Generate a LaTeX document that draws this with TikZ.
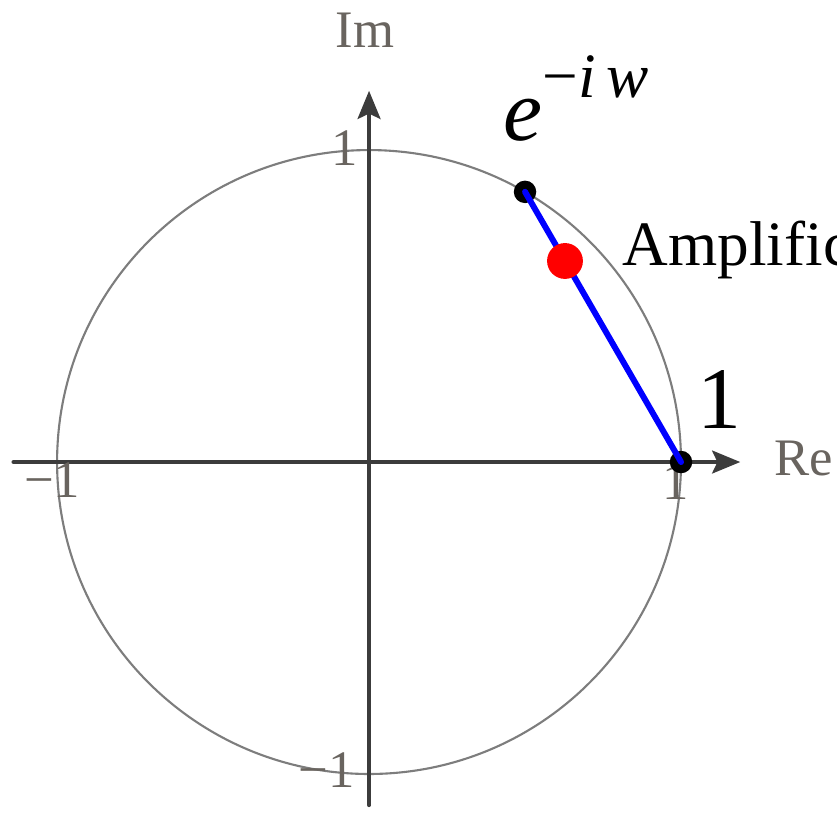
\documentclass[tikz,border=0pt]{standalone}
\usepackage{fontspec}
\setmainfont{Liberation Serif}
\usetikzlibrary{arrows.meta,calc}
\definecolor{ejegris}{RGB}{60,60,60}
\definecolor{rotgris}{RGB}{105,100,95}
\definecolor{circgris}{RGB}{125,125,125}
\tikzset{
  eje/.style={line width=1.1pt, draw=ejegris, -{Stealth[length=8pt,width=6.5pt,inset=1.5pt]}},
  rotulo/.style={text=rotgris, font=\fontsize{15}{18}\selectfont, inner sep=0pt},
  punto/.style={circle, fill=black, inner sep=0pt, minimum size=6.4pt},
  texto/.style={anchor=base west, inner sep=0pt},
}
\begin{document}
\begin{tikzpicture}[scale=3.12, line cap=round, line join=round]
  \useasboundingbox (-1.183,-1.151) rectangle (1.5,1.481);
  % la circunferencia unidad
  \draw[circgris, line width=0.6pt] (0,0) circle (1);
  % los ejes y sus rotulos
  \draw[eje] (-1.14,0) -- (1.19,0);
  \draw[eje] (0,-1.10) -- (0,1.19);
  \node[rotulo] (re) at (1.394,0.01) {Re};
  \node[rotulo] (im) at (-0.013,1.385) {Im};
  \node[rotulo] (xpos) at (0.984,-0.064) {1};
  \node[rotulo] (xneg) at (-1.016,-0.058) {−1};
  \node[rotulo] (ypos) at (-0.077,1.006) {1};
  \node[rotulo] (yneg) at (-0.135,-0.987) {−1};
  % los dos puntos y la cuerda
  \node[punto] (z) at (60:1) {};
  \node[punto] (uno) at (1,0) {};
  \draw[blue, line width=1.7pt] (z.center) -- (uno.center);
  \node[circle, fill=red, inner sep=0pt, minimum size=10.2pt] (amp) at ($(z.center)!0.256!(uno.center)$) {};
  % los textos grandes
  \node[texto] (ez) at (0.43,1.032) {\fontsize{25}{30}\selectfont\itshape e\raisebox{12pt}{\fontsize{18}{20}\selectfont\upshape −\itshape i\,w}};
  \node[texto] (ampl) at (0.811,0.631) {\fontsize{18}{22}\selectfont Amplific};
  \node[texto] (unolab) at (1.051,0.109) {\fontsize{25}{30}\selectfont 1};
\end{tikzpicture}
\end{document}
